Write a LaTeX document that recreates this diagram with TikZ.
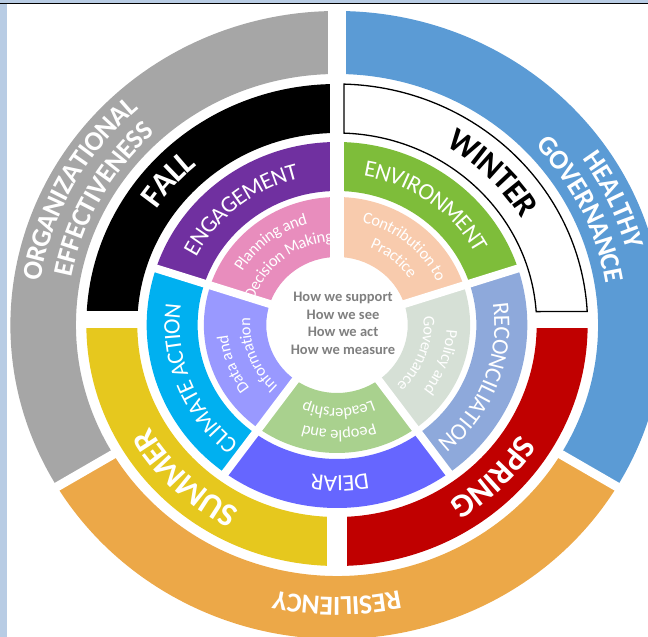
\documentclass[tikz,border=0pt]{standalone}
\usepackage{fontspec}
\setmainfont{Carlito}
\usetikzlibrary{decorations.text}

\definecolor{grigio}{HTML}{A6A6A6}
\definecolor{azzurro}{HTML}{5B9BD5}
\definecolor{arancio}{HTML}{ECA848}
\definecolor{rosso}{HTML}{C00000}
\definecolor{giallo}{HTML}{E6C81E}
\definecolor{viola}{HTML}{7030A0}
\definecolor{verde}{HTML}{7EBD3A}
\definecolor{ciano}{HTML}{00B0F0}
\definecolor{blu}{HTML}{6666FF}
\definecolor{pervinca}{HTML}{8EA9DB}
\definecolor{rosa}{HTML}{E88DBD}
\definecolor{pesca}{HTML}{F8CBAD}
\definecolor{lavanda}{HTML}{9999FF}
\definecolor{verdino}{HTML}{A9D18E}
\definecolor{salvia}{HTML}{D6E0D6}
\definecolor{cornice}{HTML}{B8CCE4}
\definecolor{testogrigio}{HTML}{7F7F7F}

\tikzset{
  taglio/.style={white, line width=8pt},
  inverno/.style={fill=white, draw=black, line width=1.3pt},
  centro/.style={align=center, text=testogrigio, font=\fontsize{14.5}{17.8}\selectfont\bfseries}
}

% settore di corona: colore, raggio interno, raggio esterno, angolo iniziale, angolo finale
\newcommand{\settore}[5]{\fill[#1] (#4:#2) arc[start angle=#4,end angle=#5,radius=#2] -- (#5:#3) arc[start angle=#5,end angle=#4,radius=#3] -- cycle;}
% scritta lungo un arco: raggio, angolo centrale, semiampiezza, raise, formato, testo
\newcommand{\scritta}[6]{\path[decorate,decoration={text along path,text align=center,raise=#4,text={|#5|#6}}] ({#2+#3}:#1) arc[start angle={#2+#3},end angle={#2-#3},radius=#1];}

\newcommand{\fanello}{\fontsize{27.5}{27.5}\selectfont\bfseries\color{white}}
\newcommand{\fstagione}{\fontsize{33}{33}\selectfont\bfseries}
\newcommand{\ftema}{\fontsize{23.5}{23.5}\selectfont\color{white}}
\newcommand{\finterno}{\fontsize{16.5}{16.5}\selectfont\color{white}}

\begin{document}
\begin{tikzpicture}[x=1pt,y=1pt]
\useasboundingbox (-337,-312) rectangle (311,325);

\begin{scope}[xscale=1.04]
    %anello esterno
    \settore{grigio}{251}{314}{90}{211}
    \settore{arancio}{251}{314}{211}{329}
    \settore{azzurro}{251}{314}{-31}{90}
    \draw[taglio, line width=18pt] (0,244) -- (0,318);
    \foreach \a in {211,329} \draw[taglio, line width=9pt] (\a:245) -- (\a:320);

    %stagioni
    \settore{black}{192}{241}{90}{180}
    \settore{giallo}{192}{241}{180}{270}
    \settore{rosso}{192}{241}{270}{360}
    \draw[taglio, line width=14pt] (0,186) -- (0,247);
    \draw[taglio, line width=20pt] (0,-186) -- (0,-247);
    \draw[taglio, line width=16.5pt] (-247,5.25) -- (-186,5.25);
    \draw[taglio, line width=16.5pt] (186,5.25) -- (247,5.25);
    %inverno bianco con bordo nero
    \draw[inverno] (88.4:241) arc[start angle=88.4,end angle=3.2,radius=241] -- (4.0:192) arc[start angle=4.0,end angle=88.0,radius=192] -- cycle;

    %temi
    \settore{viola}{134}{183}{90}{162}
    \settore{ciano}{134}{183}{162}{234}
    \settore{blu}{134}{183}{234}{306}
    \settore{pervinca}{134}{183}{306}{378}
    \settore{verde}{134}{183}{18}{90}

    %anello interno
    \settore{rosa}{68}{128}{90}{162}
    \settore{lavanda}{68}{128}{162}{234}
    \settore{verdino}{68}{128}{234}{306}
    \settore{salvia}{68}{128}{306}{378}
    \settore{pesca}{68}{128}{18}{90}
    \foreach \a in {162,234,306,18} \draw[taglio] (\a:60) -- (\a:188);
    \draw[taglio, line width=14pt] (0,60) -- (0,188);

    %testo al centro
    \node[centro] (domande) at (5.8,1.7) {How we support\\How we see\\How we act\\How we measure};

    %scritte anello esterno
    \scritta{297}{151.5}{35}{-8.8pt}{\fanello}{ORGANIZATIONAL}
    \scritta{268}{151}{35}{-8.8pt}{\fanello}{EFFECTIVENESS}
    \scritta{297}{25}{30}{-8.8pt}{\fanello}{HEALTHY}
    \scritta{270}{26}{35}{-8.8pt}{\fanello}{GOVERNANCE}
    \scritta{281}{270}{35}{-8.8pt}{\fanello}{RESILIENCY}

    %scritte stagioni
    \scritta{219}{138.5}{40}{-10.5pt}{\fstagione\color{white}}{FALL}
    \scritta{217}{45}{40}{-10.5pt}{\fstagione}{WINTER}
    \scritta{217}{315}{40}{-10.5pt}{\fstagione\color{white}}{SPRING}
    \scritta{217}{226}{40}{-10.5pt}{\fstagione\color{white}}{SUMMER}

    %scritte temi
    \scritta{158.5}{129}{45}{-7.5pt}{\ftema}{ENGAGEMENT}
    \scritta{158.5}{54}{45}{-7.5pt}{\ftema}{ENVIRONMENT}
    \scritta{158.5}{201.6}{45}{-7.5pt}{\ftema}{CLIMATE ACTION}
    \scritta{158.5}{271}{45}{-7.5pt}{\ftema}{DEIAR}
    \scritta{158.5}{339}{45}{-7.5pt}{\ftema}{RECONCILIATION}

    %scritte anello interno
    \scritta{110}{128}{50}{-4.8pt}{\finterno}{Planning and}
    \scritta{88}{128}{55}{-4.8pt}{\finterno}{Decision Making}
    \scritta{110}{50}{50}{-4.8pt}{\finterno}{Contribution to}
    \scritta{88}{50}{55}{-4.8pt}{\finterno}{Practice}
    \scritta{110}{201}{50}{-4.8pt}{\finterno}{Data and}
    \scritta{88}{201}{55}{-4.8pt}{\finterno}{Information}
    \scritta{110}{271}{50}{-4.8pt}{\finterno}{People and}
    \scritta{88}{271}{55}{-4.8pt}{\finterno}{Leadership}
    \scritta{110}{340}{50}{-4.8pt}{\finterno}{Policy and}
    \scritta{88}{340}{55}{-4.8pt}{\finterno}{Governance}
\end{scope}

%cornice in alto e a sinistra
\fill[cornice] (-337,321.7) rectangle (311,325);
\draw[line width=1.2pt] (-337,321.1) -- (311,321.1);
\fill[cornice] (-337,-312) rectangle (-329.5,320.5);

\end{tikzpicture}
\end{document}
